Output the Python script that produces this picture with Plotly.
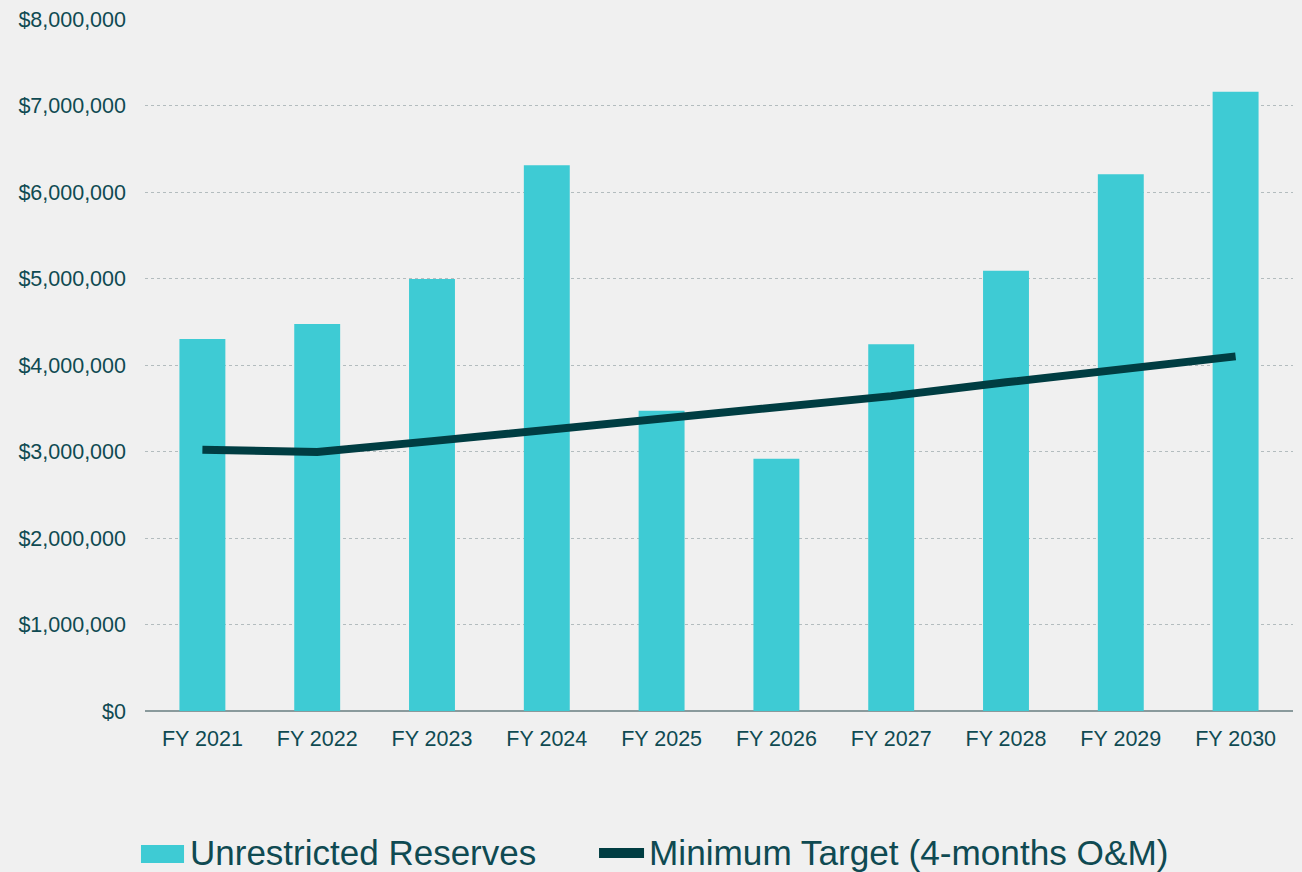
import plotly.graph_objects as go

years = ['FY 2021', 'FY 2022', 'FY 2023', 'FY 2024', 'FY 2025',
         'FY 2026', 'FY 2027', 'FY 2028', 'FY 2029', 'FY 2030']
reserves = [4300000, 4475000, 4995000, 6310000, 3470000,
            2915000, 4240000, 5090000, 6205000, 7160000]
min_target = [3020000, 2995000, 3120000, 3250000, 3380000,
              3510000, 3640000, 3800000, 3960000, 4100000]

bar_name = 'Unrestricted Reserves'
line_name = 'Minimum Target (4-months O&M)'

text_color = '#0f4a52'
bar_color = '#3ecbd4'
line_color = '#003d42'

fig = go.Figure()
fig.add_trace(go.Bar(
    x=years, y=reserves, name=bar_name,
    marker_color=bar_color, marker_line_width=0,
))
fig.add_trace(go.Scatter(
    x=years, y=min_target, name=line_name,
    mode='lines', line=dict(color=line_color, width=8),
))

# legend drawn by hand below the plot (bigger swatches than plotly's own)
leg_y = -0.2052
fig.add_shape(type='rect', xref='paper', yref='paper',
              x0=-0.0035, x1=0.034, y0=-0.2197, y1=-0.1936,
              fillcolor=bar_color, line_width=0)
fig.add_shape(type='line', xref='paper', yref='paper',
              x0=0.3955, x1=0.4347, y0=leg_y, y1=leg_y,
              line=dict(color=line_color, width=10))
fig.add_annotation(text=bar_name, xref='paper', yref='paper', x=0.0375, y=leg_y,
                   xanchor='left', yanchor='middle', showarrow=False,
                   font=dict(size=35, color=text_color))
fig.add_annotation(text=line_name, xref='paper', yref='paper', x=0.4375, y=leg_y,
                   xanchor='left', yanchor='middle', showarrow=False,
                   font=dict(size=35.2, color=text_color))

fig.update_layout(
    width=1302, height=872,
    margin=dict(l=145, r=9, t=19, b=161),
    paper_bgcolor='#f0f0f0', plot_bgcolor='#f0f0f0',
    font=dict(family='Liberation Sans, Arial', color=text_color, size=21.5),
    bargap=0.6,
    showlegend=False,
    xaxis=dict(showgrid=False, ticks='', showline=False, ticklabelstandoff=12),
    yaxis=dict(
        range=[0, 8000000], dtick=1000000, tickprefix='$', tickformat=',',
        showgrid=True, gridcolor='#b3bcbe', griddash='dot', gridwidth=1,
        zeroline=True, zerolinecolor='#8a9a9c', zerolinewidth=2,
        ticklabelstandoff=18,
    ),
)

fig.write_html('out.html', config={'displayModeBar': False},
               post_script="document.body.style.margin='0';document.body.style.background='#f0f0f0';")
